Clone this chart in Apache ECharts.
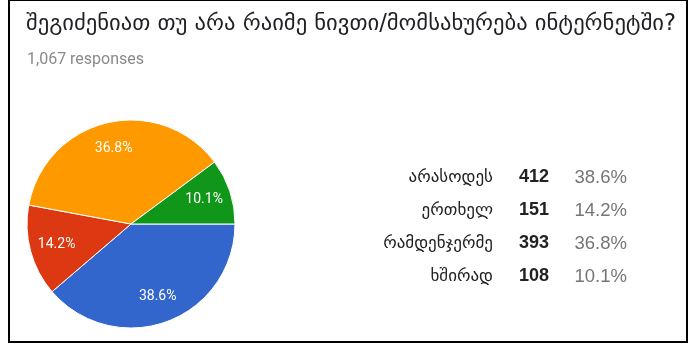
<!DOCTYPE html>
<html>
<head>
<meta charset="utf-8">
<script src="https://cdn.jsdelivr.net/npm/echarts@6/dist/echarts.min.js"></script>
<style>
  html, body { margin: 0; padding: 0; background: #ffffff; }
  #chart { width: 691px; height: 351px; }
</style>
</head>
<body>
<div id="chart"></div>
<script>
// Survey question and answers
const questionTitle = 'შეგიძენიათ თუ არა რაიმე ნივთი/მომსახურება ინტერნეტში?';
const totalResponses = 1067;
const categories = ['არასოდეს', 'ერთხელ', 'რამდენჯერმე', 'ხშირად'];
const counts = [412, 151, 393, 108];
const sliceColors = ['#3366cc', '#dc3912', '#ff9900', '#109618'];

const pct = v => (v / totalResponses * 100).toFixed(1) + '%';
const pieData = categories.map((name, i) => ({ name, value: counts[i] }));
const countByName = {};
categories.forEach((c, i) => { countByName[c] = counts[i]; });

const chart = echarts.init(document.getElementById('chart'));
chart.setOption({
  animation: false,
  backgroundColor: '#ffffff',
  color: sliceColors,
  title: [
    {
      text: questionTitle,
      left: 21,
      top: 8,
      textStyle: { fontFamily: 'DejaVu Sans', fontSize: 22.6, fontWeight: 'normal', color: '#202124' }
    },
    {
      text: totalResponses.toLocaleString('en-US') + ' responses',
      left: 22,
      top: 47,
      textStyle: { fontFamily: 'Roboto', fontSize: 16, fontWeight: 'normal', color: '#8a8a8a' }
    }
  ],
  legend: {
    orient: 'vertical',
    left: 313,
    top: 163,
    icon: 'none',
    itemWidth: 0,
    itemHeight: 0,
    itemGap: 14,
    selectedMode: false,
    data: categories,
    formatter: name => `{name|${name}}{cnt|${countByName[name]}}{pct|${pct(countByName[name])}}`,
    textStyle: {
      rich: {
        name: { width: 170, align: 'right', fontFamily: 'DejaVu Sans', fontSize: 17, color: '#222222', lineHeight: 20 },
        cnt: { width: 56, align: 'right', fontFamily: 'Liberation Sans', fontSize: 18, fontWeight: 'bold', color: '#222222', lineHeight: 20 },
        pct: { width: 78, align: 'right', fontFamily: 'Liberation Sans', fontSize: 18.5, color: '#757575', lineHeight: 20 }
      }
    }
  },
  graphic: [
    {
      type: 'rect',
      shape: { x: 9, y: 0, width: 678, height: 342 },
      style: { fill: 'none', stroke: '#000000', lineWidth: 2 },
      silent: true
    }
  ],
  series: [
    {
      // coloured slices
      type: 'pie',
      center: [131, 224],
      radius: [0, 104],
      startAngle: 0,
      clockwise: true,
      silent: true,
      label: { show: false },
      labelLine: { show: false },
      itemStyle: { borderColor: '#ffffff', borderWidth: 1 },
      data: pieData
    },
    {
      // percentage labels placed part-way out along each slice
      type: 'pie',
      center: [131, 224],
      radius: [46, 102],
      startAngle: 0,
      clockwise: true,
      silent: true,
      legendHoverLink: false,
      itemStyle: { color: 'transparent' },
      label: {
        show: true,
        position: 'inside',
        formatter: p => pct(p.value),
        fontFamily: 'Roboto',
        fontSize: 14,
        color: '#ffffff'
      },
      labelLine: { show: false },
      data: pieData
    }
  ]
});
</script>
</body>
</html>
